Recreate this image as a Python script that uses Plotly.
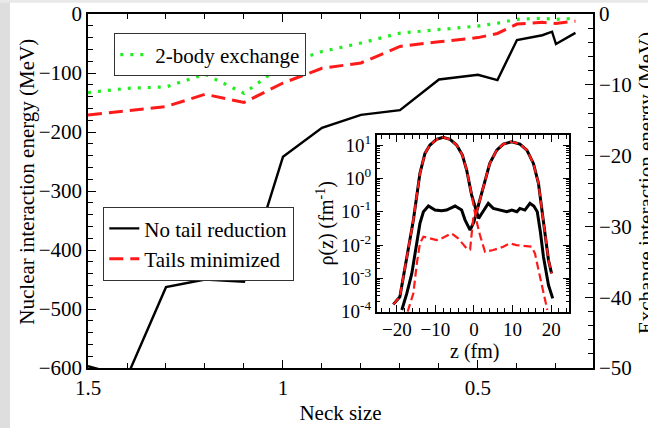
import plotly.graph_objects as go

# ---- main panel: interaction energies versus neck size ----
neck = [1.5, 1.4, 1.3, 1.2, 1.1, 1.0, 0.9, 0.8, 0.7, 0.6, 0.5, 0.45, 0.4, 0.335, 0.31, 0.3, 0.25]
e_no_tail = [-597, -615, -463, -450, -454, -242, -193, -171, -163, -111, -103, -112, -44, -36, -30, -51, -32]
e_tails_min = [-171, -164, -157, -136, -150, -117, -92, -83, -55, -47, -40, -33, -17, -14, -15, -16, -12]
e_exchange = [-11.1, -10.5, -10.3, -8.5, -11.2, -7.2, -5.3, -4.1, -2.7, -2.2, -1.7, -1.3, -0.75, -0.6, -0.65, -0.75, -0.6]

x_tickvals = [1.5, 1.0, 0.5]
x_ticktext = ["1.5", "1", "0.5"]

# ---- inset: fragment densities log10(rho) along z ----
z_left_black = [-20.9, -19.2, -15.7, -14.8, -14.0, -12.7, -11.4, -9.7, -8.0, -6.2, -4.5, -3.0, -1.9,
                 -0.6, 0.7, 1.2, 2.6, 3.7, 5.0, 6.7, 8.5, 9.8, 11.1, 11.9, 13.2, 14.5, 15.5, 16.4,
                 17.2, 18.0, 19.3, 20.4]
lg_left_black = [-3.78, -3.55, -1.25, -0.55, 0.15, 0.75, 1.0, 1.17, 1.23, 1.17, 1.0, 0.7, 0.25,
                 -0.5, -1.05, -1.2, -0.95, -0.75, -0.9, -0.95, -1.0, -0.95, -1.0, -0.9, -0.95, -0.75,
                 -0.83, -1.0, -1.6, -2.35, -3.2, -3.6]

z_left_red = [-20.9, -19.2, -15.7, -14.8, -14.0, -12.7, -11.4, -9.7, -8.0, -6.2, -4.5, -3.0, -1.9,
              -0.6, 0.5, 1.55, 2.85, 5.0, 7.6, 9.3, 11.0, 14.9, 15.8, 17.1, 18.4, 19.0]
lg_left_red = [-3.78, -3.55, -1.25, -0.55, 0.15, 0.75, 1.0, 1.17, 1.23, 1.17, 1.0, 0.7, 0.25,
               -0.5, -1.2, -1.7, -2.2, -2.15, -2.05, -1.95, -2.0, -2.05, -2.25, -2.95, -3.65, -3.95]

z_right_black = [-18.7, -17.4, -16.1, -14.8, -14.0, -13.1, -11.8, -10.1, -8.4, -7.1, -4.9, -3.2,
                 -2.3, -1.0, 0.0, 0.7, 2.4, 4.1, 5.9, 7.6, 9.8, 11.9, 13.7, 15.4, 16.7, 17.5,
                 18.4, 19.3, 20.1]
lg_right_black = [-3.95, -3.45, -2.85, -1.95, -1.35, -1.0, -0.83, -0.95, -0.97, -0.95, -0.83, -0.95,
                  -1.25, -1.55, -1.3, -1.0, -0.25, 0.45, 0.85, 1.03, 1.1, 1.03, 0.85, 0.45, -0.15,
                  -0.85, -1.55, -2.45, -2.85]

z_right_red = [-17.2, -15.7, -14.8, -14.0, -13.1, -11.4, -9.7, -8.4, -5.8, -4.1, -1.9, -1.0, -0.2,
               0.7, 2.4, 4.1, 5.9, 7.6, 9.8, 11.9, 13.7, 15.4, 16.7, 17.5, 18.4, 19.3, 20.1]
lg_right_red = [-4.0, -3.45, -2.55, -1.95, -1.75, -1.8, -1.85, -1.8, -1.65, -1.8, -2.1, -2.13, -1.2,
                -1.0, -0.25, 0.45, 0.85, 1.03, 1.1, 1.03, 0.85, 0.45, -0.15, -0.85, -1.55, -2.45, -2.85]

rho_tickvals = [1e-4, 1e-3, 1e-2, 1e-1, 1e0, 1e1]
rho_ticktext = ["10<sup>-4</sup>", "10<sup>-3</sup>", "10<sup>-2</sup>",
                "10<sup>-1</sup>", "10<sup>0</sup>", "10<sup>1</sup>"]

SERIF = "Liberation Serif, Times New Roman, serif"
BLACK = "#000000"
RED = "#ff1a1a"
GREEN = "#22ee22"
FS = 21
FS_INSET = 19


def pow10(vals):
    return [10 ** v for v in vals]


def serif(size=FS):
    return dict(family=SERIF, size=size, color=BLACK)


fig = go.Figure()

# main curves
fig.add_trace(go.Scatter(x=neck, y=e_no_tail, mode="lines", name="No tail reduction",
                         line=dict(color=BLACK, width=2.4), legend="legend2"))
fig.add_trace(go.Scatter(x=neck, y=e_tails_min, mode="lines", name="Tails minimized",
                         line=dict(color=RED, width=3, dash="14px,7px"), legend="legend2"))
fig.add_trace(go.Scatter(x=neck, y=e_exchange, mode="lines", name="2-body exchange",
                         line=dict(color=GREEN, width=3.2, dash="3px,7px"), yaxis="y2",
                         legend="legend"))

# inset curves: black first, red dashed drawn over it
for zz, lg in ((z_left_black, lg_left_black), (z_right_black, lg_right_black)):
    fig.add_trace(go.Scatter(x=zz, y=pow10(lg), mode="lines", xaxis="x3", yaxis="y3",
                             line=dict(color=BLACK, width=3), showlegend=False))
for zz, lg in ((z_left_red, lg_left_red), (z_right_red, lg_right_red)):
    fig.add_trace(go.Scatter(x=zz, y=pow10(lg), mode="lines", xaxis="x3", yaxis="y3",
                             line=dict(color=RED, width=2.2, dash="8px,4px"), showlegend=False))


def axis_common(size=FS):
    return dict(showgrid=False, zeroline=False, showline=True, linecolor=BLACK, linewidth=1.5,
                ticks="inside", tickcolor=BLACK, tickwidth=1.3, tickfont=serif(size),
                automargin=False)


minor_rho = [k * 10 ** n for n in range(-4, 2) for k in range(2, 10)]

fig.update_layout(
    width=648, height=428,
    margin=dict(l=88, r=55, t=14, b=60),
    paper_bgcolor="white", plot_bgcolor="white",
    font=serif(),
    xaxis=dict(**axis_common(), range=[1.5, 0.205], mirror="ticks", ticklen=8,
               tickvals=x_tickvals, ticktext=x_ticktext,
               minor=dict(ticks="inside", ticklen=5, tickcolor=BLACK, tickwidth=1.3,
                          tick0=0, dtick=0.1),
               title=dict(text="Neck size", font=serif(), standoff=6)),
    yaxis=dict(**axis_common(), range=[-600, 0], dtick=100, ticklen=8,
               minor=dict(ticks="inside", ticklen=5, tickcolor=BLACK, tickwidth=1.3, dtick=20)),
    yaxis2=dict(**axis_common(), range=[-50, 0], dtick=10, ticklen=8, overlaying="y", side="right",
                minor=dict(ticks="inside", ticklen=5, tickcolor=BLACK, tickwidth=1.3, dtick=2)),
    xaxis3=dict(**axis_common(FS_INSET), domain=[0.5717, 0.9531], anchor="y3", range=[-25.2, 24.7],
                mirror="ticks", ticklen=7, dtick=10, tick0=0,
                minor=dict(ticks="inside", ticklen=4, tickcolor=BLACK, tickwidth=1, dtick=2)),
    yaxis3=dict(**axis_common(FS_INSET), domain=[0.159, 0.658], anchor="x3", type="log",
                range=[-4, 1.3], mirror="ticks", ticklen=7,
                tickvals=rho_tickvals, ticktext=rho_ticktext,
                minor=dict(ticks="inside", ticklen=4, tickcolor=BLACK, tickwidth=1,
                           tickvals=minor_rho),
                title=dict(text="ρ(z) (fm<sup>-1</sup>)", font=serif(20), standoff=2)),
    legend=dict(x=0.0515, y=0.946, xanchor="left", yanchor="top", bgcolor="white",
                bordercolor="#333333", borderwidth=1.3, font=serif(),
                itemwidth=30, tracegroupgap=0),
    legend2=dict(x=0.0297, y=0.455, xanchor="left", yanchor="top", bgcolor="white",
                 bordercolor="#333333", borderwidth=1.3, font=serif(),
                 itemwidth=30, tracegroupgap=0),
    annotations=[
        dict(text="Nuclear interaction energy (MeV)", xref="paper", yref="paper",
             x=-0.121, y=0.526, xanchor="center", yanchor="middle", textangle=-90,
             showarrow=False, font=serif()),
        dict(text="Exchange interaction energy (MeV)", xref="paper", yref="paper",
             x=1.104, y=0.521, xanchor="center", yanchor="middle", textangle=-90,
             showarrow=False, font=serif()),
        dict(text="z (fm)", xref="paper", yref="paper",
             x=0.7644, y=0.046, xanchor="center", yanchor="middle",
             showarrow=False, font=serif(20)),
    ],
    shapes=[
        dict(type="rect", xref="paper", yref="paper", x0=-0.18, x1=-0.1545, y0=-0.2, y1=1.05,
             fillcolor="#dedede", line=dict(width=0), layer="below"),
        dict(type="rect", xref="paper", yref="paper", x0=-0.18, x1=1.2, y0=1.032, y1=1.05,
             fillcolor="#e9e9e9", line=dict(width=0), layer="below"),
    ],
)

fig.write_html("out.html")
